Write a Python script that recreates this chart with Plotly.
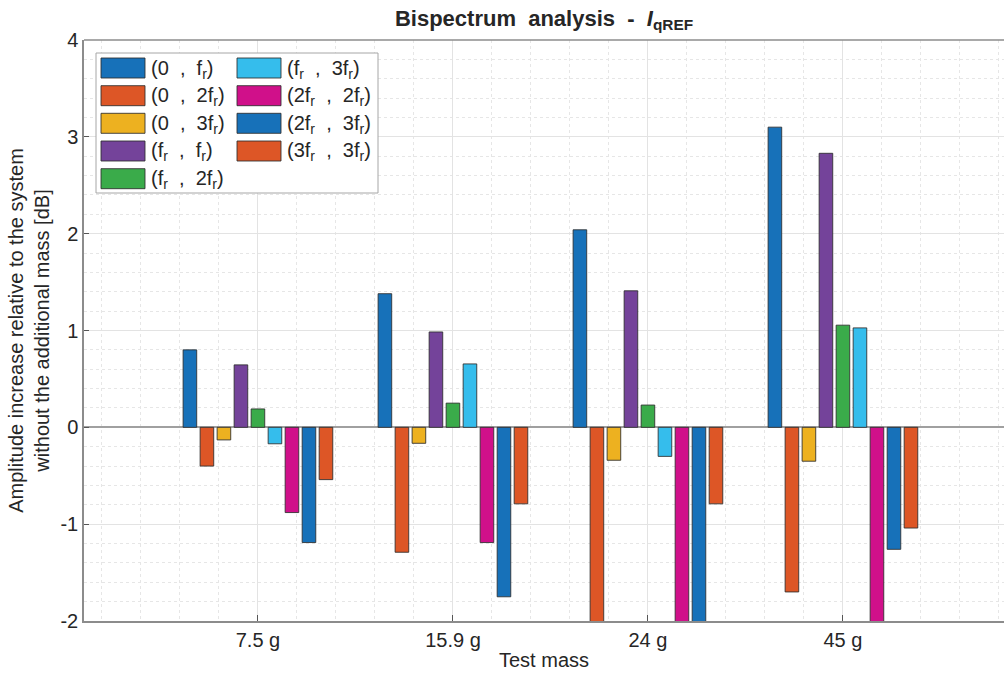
import plotly.graph_objects as go

categories = ["7.5 g", "15.9 g", "24 g", "45 g"]
series_labels = [
    "(0\u00a0\u00a0,\u00a0\u00a0f<sub>r</sub>)",
    "(0\u00a0\u00a0,\u00a0\u00a02f<sub>r</sub>)",
    "(0\u00a0\u00a0,\u00a0\u00a03f<sub>r</sub>)",
    "(f<sub>r</sub>\u00a0\u00a0,\u00a0\u00a0f<sub>r</sub>)",
    "(f<sub>r</sub>\u00a0\u00a0,\u00a0\u00a02f<sub>r</sub>)",
    "(f<sub>r</sub>\u00a0\u00a0,\u00a0\u00a03f<sub>r</sub>)",
    "(2f<sub>r</sub>\u00a0\u00a0,\u00a0\u00a02f<sub>r</sub>)",
    "(2f<sub>r</sub>\u00a0\u00a0,\u00a0\u00a03f<sub>r</sub>)",
    "(3f<sub>r</sub>\u00a0\u00a0,\u00a0\u00a03f<sub>r</sub>)",
]
# values per series, for groups 7.5 g, 15.9 g, 24 g, 45 g
v_0_fr    = [0.80, 1.38, 2.04, 3.10]
v_0_2fr   = [-0.40, -1.29, -2.40, -1.70]
v_0_3fr   = [-0.13, -0.165, -0.34, -0.35]
v_fr_fr   = [0.645, 0.985, 1.41, 2.83]
v_fr_2fr  = [0.19, 0.25, 0.23, 1.055]
v_fr_3fr  = [-0.17, 0.655, -0.30, 1.027]
v_2fr_2fr = [-0.88, -1.19, -2.50, -2.40]
v_2fr_3fr = [-1.19, -1.75, -2.60, -1.26]
v_3fr_3fr = [-0.54, -0.79, -0.79, -1.04]
series_values = [v_0_fr, v_0_2fr, v_0_3fr, v_fr_fr, v_fr_2fr, v_fr_3fr,
                 v_2fr_2fr, v_2fr_3fr, v_3fr_3fr]
colors = ["#1771B9", "#DD5626", "#EDB120", "#74439A", "#3AAB4A",
          "#35BDEC", "#D0108A", "#1771B9", "#DD5626"]
y_ticks = [-2, -1, 0, 1, 2, 3, 4]
y_ticktext = ["-2", "-1", "0", "1", "2", "3", "4"]

x_pos = [1, 2, 3, 4]
FONT = "Liberation Sans, Arial, sans-serif"
TXT = "#262626"
FS = 20

W, H = 1004, 673
ML, MR, MT, MB = 84, 0, 40, 52
PW, PH = W - ML - MR, H - MT - MB

def px_x(px):
    return (px - ML) / PW

def px_y(py):
    return (H - MB - py) / PH

fig = go.Figure()
for lab, vals, col in zip(series_labels, series_values, colors):
    fig.add_trace(go.Bar(
        x=x_pos, y=vals, name=lab, marker_color=col,
        marker_line=dict(color="rgba(45,45,45,0.85)", width=1),
        showlegend=False,
    ))

# manual legend (box, swatches, labels)
shapes = [dict(type="rect", xref="paper", yref="paper",
               x0=px_x(96), x1=px_x(378), y0=px_y(193), y1=px_y(53),
               fillcolor="white", line=dict(color="#a6a6a6", width=1),
               layer="above")]
annotations = []
col_sw_x = [101, 237]
col_tx_x = [149, 285]
row_top = [58, 85.7, 113.3, 141, 168.7]
for i, (lab, col) in enumerate(zip(series_labels, colors)):
    c = 0 if i < 5 else 1
    r = i if i < 5 else i - 5
    y0 = row_top[r]
    shapes.append(dict(type="rect", xref="paper", yref="paper",
                       x0=px_x(col_sw_x[c]), x1=px_x(col_sw_x[c] + 44),
                       y0=px_y(y0 + 20), y1=px_y(y0),
                       fillcolor=col, line=dict(color="rgba(45,45,45,0.85)", width=1),
                       layer="above"))
    annotations.append(dict(xref="paper", yref="paper", x=px_x(col_tx_x[c]),
                            y=px_y(y0 + 11), xanchor="left", yanchor="middle",
                            text=lab, showarrow=False,
                            font=dict(family=FONT, size=FS, color=TXT)))

fig.update_layout(
    width=W, height=H,
    margin=dict(l=ML, r=MR, t=MT, b=MB),
    plot_bgcolor="white", paper_bgcolor="white",
    barmode="group", bargap=0.215, bargroupgap=0.2,
    font=dict(family=FONT, size=FS, color=TXT),
    title=dict(text="<b>Bispectrum\u00a0 analysis\u00a0 -\u00a0 <i>I</i><sub>qREF</sub></b>",
               x=px_x(544), xref="paper", xanchor="center",
               y=1 - 18 / H, yanchor="middle",
               font=dict(family=FONT, size=22, color=TXT)),
    shapes=shapes, annotations=annotations,
    xaxis=dict(range=[0.108, 0.108 + PW / 195.0],
               tickvals=x_pos, ticktext=categories,
               ticks="inside", ticklen=6, tickcolor="#555", tickwidth=1,
               showline=True, linecolor="#8c8c8c", linewidth=1.5, mirror=False,
               showgrid=True, gridcolor="#e3e3e3", gridwidth=1,
               minor=dict(tick0=0, dtick=0.2, showgrid=True, gridcolor="#e6e6e6",
                          griddash="dot", gridwidth=1, ticks=""),
               zeroline=False,
               title=dict(text="Test mass", standoff=3,
                          font=dict(family=FONT, size=FS, color=TXT)),
               tickfont=dict(family=FONT, size=FS, color=TXT)),
    yaxis=dict(range=[-2, 4], tickvals=y_ticks, ticktext=y_ticktext,
               ticks="inside", ticklen=5, tickcolor="#555",
               showline=True, linecolor="#8c8c8c", linewidth=1.5, mirror=False,
               showgrid=True, gridcolor="#e3e3e3", gridwidth=1,
               minor=dict(dtick=0.2, showgrid=True, gridcolor="#e6e6e6",
                          griddash="dot", gridwidth=1, ticks=""),
               zeroline=True, zerolinecolor="#a0a0a0", zerolinewidth=1.5,
               title=dict(text="Amplitude increase relative to the system<br>without the additional mass [dB]",
                          standoff=5, font=dict(family=FONT, size=FS, color=TXT)),
               tickfont=dict(family=FONT, size=FS, color=TXT)),
)
# top border line
fig.add_shape(type="line", xref="paper", yref="paper", x0=0, x1=1, y0=1, y1=1,
              line=dict(color="#8c8c8c", width=1.5))

fig.write_html("out.html", config={"displayModeBar": False},
               post_script="document.body.style.margin='0';")
